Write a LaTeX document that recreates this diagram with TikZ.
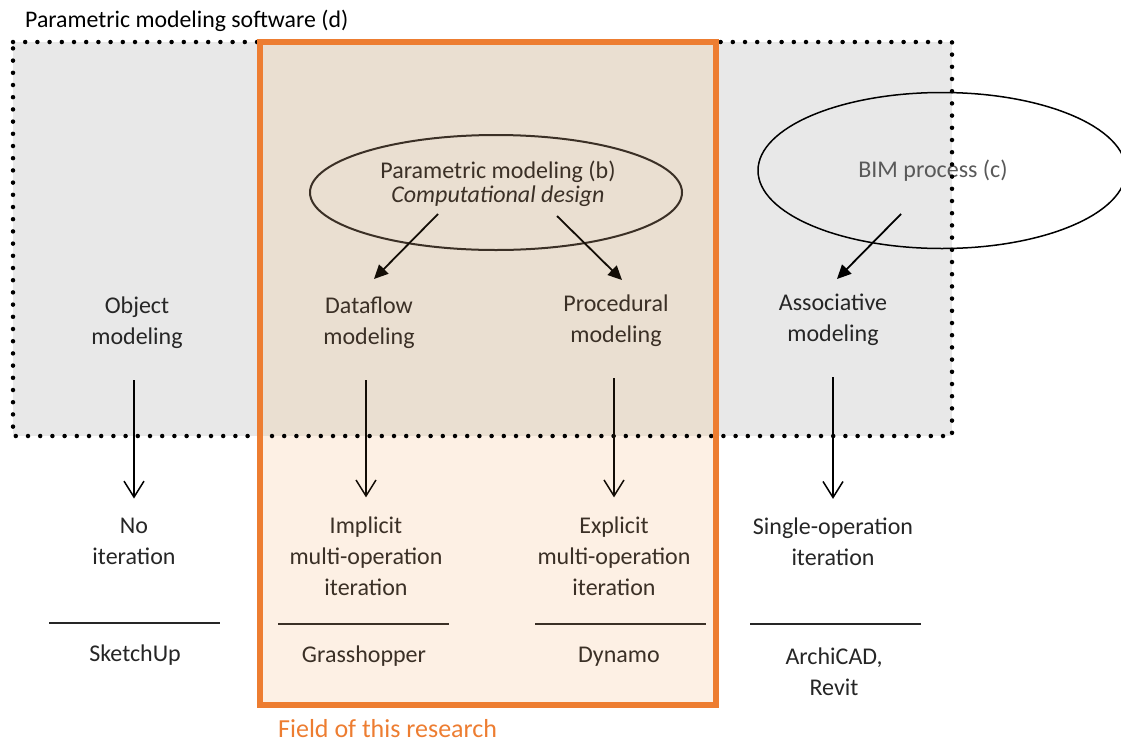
\documentclass[tikz,border=0pt]{standalone}
\usepackage{fontspec}
\setmainfont{Carlito}
\usepackage{xcolor}
\usetikzlibrary{positioning,arrows.meta,shapes.geometric}
\definecolor{softgray}{HTML}{E8E8E8}
\definecolor{tanfill}{HTML}{EADFD1}
\definecolor{peachfill}{HTML}{FDF0E4}
\definecolor{fieldorange}{HTML}{ED7D31}
\definecolor{darkbrown}{HTML}{3B3026}
\definecolor{bodytext}{HTML}{262626}
\definecolor{bimgray}{HTML}{595959}
\tikzset{
    font={\fontsize{24pt}{31pt}\selectfont},
    txt/.style={align=center, inner sep=0pt, text=bodytext},
    process/.style={
        ellipse,
        draw,
        inner sep=0pt,
        line width=2pt
    },
    down/.style={-{Straight Barb[length=16pt,width=20pt]}, line width=1.5pt,
        shorten <=31pt, shorten >=19pt},
    diag/.style={-{Triangle[length=14pt,width=13pt]}, line width=1.8pt},
    toolline/.style={line width=1.5pt, draw=bodytext},
    dotframe/.style={line width=4.5pt, line cap=round, dash pattern=on 0pt off 12.2pt},
}
\begin{document}
\begin{tikzpicture}[x=1pt, y=-1pt]
        \useasboundingbox (0,0) rectangle (1121,742);

        % Background areas
        \fill[softgray] (13,42) rectangle (952,436);
        \fill[peachfill] (260,42) rectangle (716,705);
        \fill[tanfill] (260,42) rectangle (716,436);

        % The two processes
        \node[process, draw=darkbrown, minimum width=372pt, minimum height=115pt] (parm) at (496,192.5) {};
        \node[txt, text=darkbrown, font=\fontsize{24pt}{24pt}\selectfont] (parmtext) at (498,184)
            {Parametric modeling (b)\\\textit{Computational design}};
        \node[process, draw=black, line width=1.5pt, minimum width=368pt, minimum height=156pt] (bim) at (942,170.5) {};
        \node[txt, text=bimgray] (bimtext) at (933,171) {BIM process (c)};

        % Parametric modeling software frame
        \draw[dotframe] (13,42) -- (952,42) -- (952,436) -- (13,436) -- cycle;
        \node[anchor=base west, inner sep=0pt, font=\fontsize{23.8pt}{28pt}\selectfont] (title) at (25,27)
            {Parametric modeling software (d)};

        % Field of this research
        \draw[fieldorange, line width=6pt] (260,42) rectangle (716,705);
        \node[anchor=base west, inner sep=0pt, text=fieldorange,
              font=\fontsize{26pt}{30pt}\selectfont] (field) at (278,737) {Field of this research};

        % Modeling types
        \node[txt] (obj)   at (137,323) {Object\\modeling};
        \node[txt, text=darkbrown] (dflow) at (369,323) {Dataflow\\modeling};
        \node[txt, text=darkbrown] (proc)  at (616,321) {Procedural\\modeling};
        \node[txt] (assoc) at (833,320) {Associative\\modeling};

        % Iterations
        \node[txt] (noit)  at (134,541) {No\\iteration};
        \node[txt, text=darkbrown] (impl)  at (366,556) {Implicit\\multi-operation\\iteration};
        \node[txt, text=darkbrown] (expl)  at (614,556) {Explicit\\multi-operation\\iteration};
        \node[txt] (single) at (833,542) {Single-operation\\iteration};

        % Software
        \node[txt] (sketch) at (135,655) {SketchUp};
        \node[txt, text=darkbrown] (grass)  at (364,656) {Grasshopper};
        \node[txt, text=darkbrown] (dyn)    at (619,657) {Dynamo};
        \node[txt] (archi)  at (834,672) {ArchiCAD,\\Revit};

        \draw[toolline] (49,623) -- (220,623);
        \draw[toolline, draw=darkbrown] (278,624) -- (449,624);
        \draw[toolline, draw=darkbrown] (535,624) -- (706,624);
        \draw[toolline] (750,624) -- (921,624);

        % Arrow ends
        \coordinate (parm-l) at (438,214);
        \coordinate (parm-r) at (557,216);
        \coordinate (bim-l)  at (901,214);
        \coordinate (dflow-in) at (374,279);
        \coordinate (proc-in)  at (622,280);
        \coordinate (assoc-in) at (837,279);

        \draw[diag, draw=black!90!brown] (parm-l) -- (dflow-in);
        \draw[diag, draw=black!90!brown] (parm-r) -- (proc-in);
        \draw[diag] (bim-l) -- (assoc-in);

        \draw[down] (noit.north |- obj.south) -- (noit.north);
        \draw[down, draw=black!90!brown] (impl.north |- dflow.south) -- (impl.north);
        \draw[down, draw=black!90!brown] (expl.north |- proc.south) -- (expl.north);
        \draw[down] (single.north |- assoc.south) -- (single.north);

\end{tikzpicture}
\end{document}
